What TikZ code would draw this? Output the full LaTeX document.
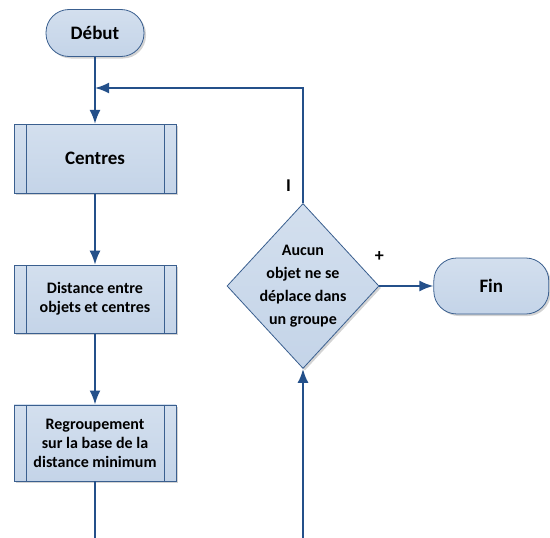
\documentclass[tikz,border=0pt]{standalone}
\usepackage{fontspec}
\setmainfont{Carlito}
\usetikzlibrary{positioning}
\usetikzlibrary{arrows.meta}
\usetikzlibrary{shapes.geometric}
\usetikzlibrary{shadows}

\definecolor{bord}{HTML}{3A5F8F}
\definecolor{fond}{HTML}{D3DFEE}
\definecolor{fondbas}{HTML}{C4D4E8}
\definecolor{fleche}{HTML}{24508A}

\begin{document}
\begin{tikzpicture}[
x=1pt, y=-1pt,
base/.style ={draw=bord, thick, top color=fond, bottom color=fondbas,
  drop shadow={opacity=0.35, shadow xshift=2pt, shadow yshift=-2pt},
  font=\bfseries, text=black, align=center
},
terminal/.style ={base, rectangle, rounded corners=23pt,
  font=\fontsize{19}{22}\selectfont\bfseries},
process/.style ={base, rectangle, minimum width=162pt,
  font=\fontsize{16}{19}\selectfont\bfseries,
  path picture={
    \draw[bord, thick] ([xshift=12pt]path picture bounding box.north west)
      -- ([xshift=12pt]path picture bounding box.south west);
    \draw[bord, thick] ([xshift=-12pt]path picture bounding box.north east)
      -- ([xshift=-12pt]path picture bounding box.south east);
  }
},
decision/.style ={base, diamond, inner sep=-14pt,
  minimum width=152pt, minimum height=165pt,
  font=\fontsize{16}{23}\selectfont\bfseries},
line/.style ={draw=fleche, line width=2pt, -{Latex[length=14pt,width=11pt]}},
flow/.style ={draw=fleche, line width=2pt},
signe/.style ={font=\fontsize{18}{20}\selectfont\bfseries, inner sep=0pt}
]
\useasboundingbox (0,0) rectangle (550,538);

\node[terminal, minimum width=98pt, minimum height=47pt] (debut) at (95,33) {Début};
\node[process, minimum height=69pt, font=\fontsize{19}{22}\selectfont\bfseries]
  (centres) [below=67pt of debut] {Centres};
\node[process, minimum height=68pt] (distance) [below=71pt of centres]
  {Distance entre\\objets et centres};
\node[process, minimum height=76pt] (regroup) [below=71pt of distance]
  {Regroupement\\sur la base de la\\distance minimum};
\node[decision] (test) at (303,286)
  {Aucun\\objet ne se\\déplace dans\\un groupe};
\node[terminal, minimum width=115pt, minimum height=56pt] (fin) [right=54pt of test] {Fin};

\coordinate (retour) at (debut.south |- 0,88);
\coordinate (sortie) at (regroup.south |- 0,538);
\coordinate (entree) at (test.south |- 0,538);

\draw[line] (debut) -- (centres);
\draw[line] (centres) -- (distance);
\draw[line] (distance) -- (regroup);
\draw[flow] (regroup) -- (sortie);
\draw[line] (entree) -- (test);
\draw[line] (test.north) |- node[signe, pos=0.075, left=11pt] {I} (retour);
\draw[line] (test.east) -- node[signe, pos=0, above=24pt] {+} (fin);
\end{tikzpicture}
\end{document}
